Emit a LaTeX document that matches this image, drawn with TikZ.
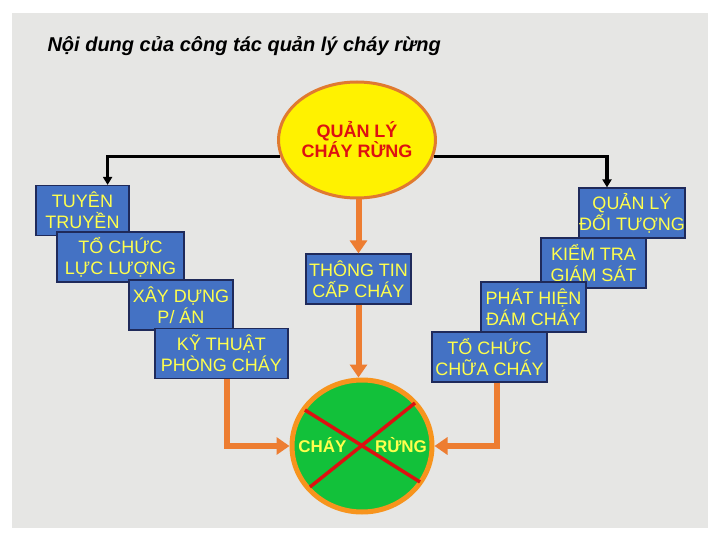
\documentclass[tikz,border=0pt]{standalone}
\usepackage{fontspec}
\setmainfont{Liberation Sans}
\usetikzlibrary{arrows.meta,calc,positioning,shapes.geometric}
\definecolor{slidegray}{HTML}{E6E6E4}
\definecolor{boxblue}{HTML}{4472C4}
\definecolor{boxline}{HTML}{1F2A5A}
\definecolor{txtyellow}{HTML}{FFFF4D}
\definecolor{arrorange}{HTML}{ED7D31}
\definecolor{ringorange}{HTML}{F7941D}
\definecolor{rimbrown}{HTML}{E07A30}
\definecolor{firegreen}{HTML}{12C13A}
\definecolor{crossred}{HTML}{DD1111}
\tikzset{kbox/.style={draw=boxline,line width=1.2pt,fill=boxblue,text=txtyellow,align=center,inner sep=0pt,
    minimum height=50pt,font=\fontsize{18}{21}\selectfont},
  blk/.style={-{Triangle[length=8pt,width=9pt]},line width=3.5pt},
  oarr/.style={-{Triangle[length=13pt,width=17pt]},line width=6pt,arrorange}}

\begin{document}
\begin{tikzpicture}[x=1pt,y=-1pt]
\useasboundingbox (0,0) rectangle (720,540);
\fill[white] (0,0) rectangle (720,540);
\fill[slidegray] (12,13) rectangle (708,528);
\node[anchor=base west,font=\fontsize{20}{24}\selectfont\bfseries\itshape] (title) at (44,52) {Nội dung của công tác quản lý cháy rừng};
% central ellipse
\node[ellipse,draw=rimbrown,line width=3pt,fill=yellow,minimum width=140pt,minimum height=116pt,inner sep=0pt,
  text=crossred,align=center,font=\fontsize{18}{20}\selectfont\bfseries] (qlcr) at (357,140) {QUẢN LÝ\\CHÁY RỪNG};
% left and right stairs
\foreach \n/\x/\y/\w/\t in {tuyen/82.5/210.5/93/{TUYÊN\\TRUYỀN},tochuc/120.5/257/127/{TỔ CHỨC\\LỰC LƯỢNG},
    xaydung/181/305/104/{XÂY DỰNG\\P/ ÁN},kythuat/221.5/353.5/133/{KỸ THUẬT\\PHÒNG CHÁY},
    qldt/632/213/106/{QUẢN LÝ\\ĐỐI TƯỢNG},kiemtra/593.5/263/105/{KIỂM TRA\\GIÁM SÁT},
    phathien/533.5/307/105/{PHÁT HIỆN\\ĐÁM CHÁY},chuachay/489.5/357/115/{TỔ CHỨC\\CHỮA CHÁY},
    thongtin/358.5/279/105/{THÔNG TIN\\CẤP CHÁY}}
  \node[kbox,minimum width=\w pt] (\n) at (\x,\y) {\t};
% forest fire
\node[ellipse,draw=ringorange,line width=5pt,fill=firegreen,minimum width=140pt,minimum height=132pt,inner sep=0pt] (chay) at (362,446) {};
\draw[crossred,line width=3.5pt] ($(chay)+(-57,-36)$) -- ($(chay)+(58,36)$);
\draw[crossred,line width=3.5pt] ($(chay)+(53,-43)$) -- ($(chay)+(-52,41)$);
\node[anchor=base,text=txtyellow,font=\fontsize{17}{20}\selectfont\bfseries] (chaytxt) at (322.5,452) {CHÁY};
\node[anchor=base,text=txtyellow,font=\fontsize{17}{20}\selectfont\bfseries] (rungtxt) at (401,452) {RỪNG};
% connectors
\draw[blk] (qlcr.192.5) -| ([xshift=-22pt]tuyen.north east);
\draw[blk] (qlcr.-12.5) -| ([xshift=-25pt]qldt.north);
\draw[oarr] (qlcr.south -| thongtin.north) -- (thongtin.north);
\draw[oarr] (thongtin.south) -- (thongtin.south |- chay.north);
\draw[oarr] ([xshift=5.5pt]kythuat.south) |- (chay.west);
\draw[oarr] ([xshift=7.5pt]chuachay.south) |- (chay.east);
\end{tikzpicture}
\end{document}
